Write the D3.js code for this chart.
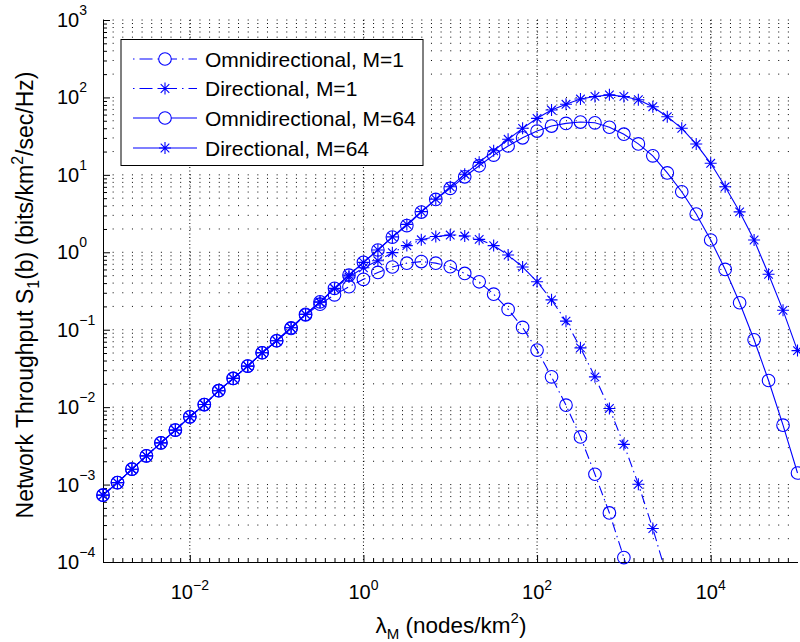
<!DOCTYPE html>
<html><head><meta charset="utf-8">
<script src="https://cdn.jsdelivr.net/npm/d3@7"></script>
<style>
body{margin:0;background:#fff}
svg{display:block}
text{font-family:"Liberation Sans",Arial,Helvetica,sans-serif;fill:#000}
</style>
</head><body>
<svg id="c" width="800" height="642"></svg>
<script>
// ---------------- data ----------------
const lambda = [
  0.001, 0.001468, 0.002154, 0.003162, 0.004642, 0.006813,
  0.01, 0.01468, 0.02154, 0.03162, 0.04642, 0.06813,
  0.1, 0.1468, 0.2154, 0.3162, 0.4642, 0.6813,
  1, 1.468, 2.154, 3.162, 4.642, 6.813,
  10, 14.68, 21.54, 31.62, 46.42, 68.13,
  100, 146.8, 215.4, 316.2, 464.2, 681.3,
  1000, 1468, 2154, 3162, 4642, 6813,
  10000, 14678, 21544, 31623, 46416, 68129,
  100000
];
const omniM1 = [
  7.3e-4, 1.06e-3, 1.58e-3, 2.35e-3, 3.46e-3, 5.05e-3, 7.5e-3, 1.08e-2, 1.63e-2, 2.35e-2, 3.39e-2, 5.04e-2, 7.2e-2,
  0.104, 0.155, 0.214, 0.282, 0.359, 0.447, 0.550, 0.646, 0.724, 0.759, 0.724, 0.650, 0.533, 0.416, 0.288, 0.183,
  0.107, 0.0545, 0.0246, 0.0106, 0.00413, 0.00136, 0.00043, 0.000114, 0.0000282
];
const dirM1 = [
  7.3e-4, 1.06e-3, 1.58e-3, 2.35e-3, 3.46e-3, 5.05e-3, 7.5e-3, 1.08e-2, 1.63e-2, 2.35e-2, 3.39e-2, 5.04e-2, 7.2e-2,
  0.106, 0.158, 0.226, 0.339, 0.479, 0.631, 0.776, 0.989, 1.22, 1.45, 1.60, 1.67, 1.62, 1.47, 1.22, 0.923,
  0.646, 0.417, 0.243, 0.129, 0.0583, 0.0246, 0.00962, 0.0033, 0.00101, 0.000271, 0.000063
];
const omniM64 = [
  7.3e-4, 1.06e-3, 1.58e-3, 2.35e-3, 3.46e-3, 5.05e-3, 7.5e-3, 1.08e-2, 1.63e-2, 2.35e-2, 3.39e-2, 5.04e-2, 7.2e-2,
  0.106, 0.158, 0.229, 0.342, 0.507, 0.741, 1.07, 1.57, 2.21, 3.31, 4.82, 6.70, 9.44, 13.1, 18.0, 23.6,
  30.1, 36.8, 42.7, 46.2, 48.1, 47.0, 41.2, 33.5, 25.1, 17.6, 10.6, 6.05, 3.12, 1.44, 0.601, 0.223,
  0.0741, 0.0221, 0.00585, 0.00141
];
const dirM64 = [
  7.3e-4, 1.06e-3, 1.58e-3, 2.35e-3, 3.46e-3, 5.05e-3, 7.5e-3, 1.08e-2, 1.63e-2, 2.35e-2, 3.39e-2, 5.04e-2, 7.2e-2,
  0.106, 0.158, 0.229, 0.342, 0.507, 0.741, 1.07, 1.58, 2.29, 3.35, 4.86, 7.01, 10.2, 14.5, 20.5, 28.8,
  39.9, 53.7, 68.7, 81.5, 95.3, 103, 108, 103, 93.3, 75.9, 56.4, 39.9, 25.0, 14.1, 7.01, 3.33,
  1.44, 0.52, 0.178, 0.0537
];
const seriesNames = ["Omnidirectional, M=1", "Directional, M=1", "Omnidirectional, M=64", "Directional, M=64"];
const xTickValues = [1e-2, 1, 1e2, 1e4];
const xTickExps = ["\u22122", "0", "2", "4"];
const yTickValues = [1e-4, 1e-3, 1e-2, 1e-1, 1, 1e1, 1e2, 1e3];
const yTickExps = ["\u22124", "\u22123", "\u22122", "\u22121", "0", "1", "2", "3"];
const xLabel = ["\u03bb", "M", " (nodes/km", "2", ")"];
const yLabel = ["Network Throughput S", "1", "(b) (bits/km", "2", "/sec/Hz)"];

// ---------------- layout ----------------
const svg = d3.select("#c");
const X0 = 103, X1 = 797.5, Y0 = 562, Y1 = 20;
const x = d3.scaleLog().domain([1e-3, 1e5]).range([X0, X1]);
const y = d3.scaleLog().domain([1e-4, 1e3]).range([Y0, Y1]);
const blue = "#0000ff";

// minor ticks
const yMinor = [];
for (let e = -4; e <= 2; e++) for (let m = 2; m <= 9; m++) yMinor.push(m * Math.pow(10, e));
const xMinor = [];
for (let j = 1; j < 72; j++) if (j % 18 !== 9) xMinor.push(Math.pow(10, -3 + j / 9));
const minorStep = (X1 - X0) / 72;

// grid
const grid = svg.append("g");
grid.selectAll("line.h").data(yTickValues.concat(yMinor).filter(v => v > 1e-4))
  .join("line").attr("class", "h")
  .attr("x1", X0).attr("x2", X1)
  .attr("y1", d => y(d)).attr("y2", d => y(d))
  .attr("stroke", "#000").attr("stroke-width", 1)
  .attr("stroke-dasharray", `1,${minorStep - 1}`);
grid.selectAll("line.v").data(xTickValues)
  .join("line").attr("class", "v")
  .attr("x1", d => x(d)).attr("x2", d => x(d))
  .attr("y1", Y1).attr("y2", Y0)
  .attr("stroke", "#000").attr("stroke-width", 1)
  .attr("stroke-dasharray", "1,2.5");

// axes
const gx = svg.append("g").attr("transform", `translate(0,${Y0})`);
gx.call(d3.axisBottom(x).tickValues(xTickValues).tickSizeInner(-7).tickSizeOuter(0).tickFormat(""));
gx.append("g").call(d3.axisBottom(x).tickValues(xMinor).tickSizeInner(-4).tickSizeOuter(0).tickFormat(""))
  .select(".domain").remove();
const gy = svg.append("g").attr("transform", `translate(${X0},0)`);
gy.call(d3.axisLeft(y).tickValues(yTickValues).tickSizeInner(-7).tickSizeOuter(0).tickFormat(""));
gy.append("g").call(d3.axisLeft(y).tickValues(yMinor).tickSizeInner(-4).tickSizeOuter(0).tickFormat(""))
  .select(".domain").remove();
svg.selectAll(".domain").attr("stroke", "#000");
svg.selectAll(".tick line").attr("stroke", "#000");

// tick labels
const xl = svg.append("g").selectAll("text").data(xTickValues).join("text")
  .attr("x", d => x(d)).attr("y", 599).attr("text-anchor", "middle")
  .attr("font-size", 20);
xl.append("tspan").text("10");
xl.append("tspan").attr("dy", -9).attr("font-size", 14).text((d, i) => xTickExps[i]);

const yl = svg.append("g").selectAll("text").data(yTickValues).join("text")
  .attr("x", 57).attr("y", d => y(d) + 7).attr("text-anchor", "start")
  .attr("font-size", 20);
yl.append("tspan").text("10");
yl.append("tspan").attr("dy", -12).attr("font-size", 14).text((d, i) => yTickExps[i]);

// axis labels
const xt = svg.append("text").attr("x", 451).attr("y", 633).attr("text-anchor", "middle").attr("font-size", 22.5);
xt.append("tspan").text(xLabel[0]);
xt.append("tspan").attr("dy", 6).attr("font-size", 15).text(xLabel[1]);
xt.append("tspan").attr("dy", -6).text(xLabel[2]);
xt.append("tspan").attr("dy", -10).attr("font-size", 15).text(xLabel[3]);
xt.append("tspan").attr("dy", 10).text(xLabel[4]);

const yt = svg.append("text").attr("transform", "translate(33,295) rotate(-90)")
  .attr("text-anchor", "middle").attr("font-size", 23);
yt.append("tspan").text(yLabel[0]);
yt.append("tspan").attr("dy", 6).attr("font-size", 16).text(yLabel[1]);
yt.append("tspan").attr("dy", -6).text(yLabel[2]);
yt.append("tspan").attr("dy", -10).attr("font-size", 16).text(yLabel[3]);
yt.append("tspan").attr("dy", 10).text(yLabel[4]);

// clip
svg.append("clipPath").attr("id", "clip").append("rect")
  .attr("x", X0).attr("y", Y1 - 10).attr("width", 800 - X0).attr("height", Y0 - Y1 + 10);

const starPath = "M-6,0H6M0,-6V6M-4.3,-4.3L4.3,4.3M-4.3,4.3L4.3,-4.3";
const series = [
  {name: seriesNames[0], vals: omniM1, dash: "10,4,1.5,4", marker: "o"},
  {name: seriesNames[1], vals: dirM1, dash: "10,4,1.5,4", marker: "*"},
  {name: seriesNames[2], vals: omniM64, dash: null, marker: "o"},
  {name: seriesNames[3], vals: dirM64, dash: null, marker: "*"}
];
const line = d3.line().x(d => x(d[0])).y(d => y(d[1]));
const plot = svg.append("g");
series.forEach(s => {
  const pts = s.vals.map((v, i) => [lambda[i], v]);
  plot.append("path").datum(pts).attr("d", line)
    .attr("clip-path", "url(#clip)")
    .attr("fill", "none").attr("stroke", blue).attr("stroke-width", 1.1)
    .attr("stroke-dasharray", s.dash);
  const vis = pts.filter(p => p[1] >= 1e-4);
  const mk = plot.append("g").selectAll("g").data(vis).join("g")
    .attr("transform", p => `translate(${x(p[0])},${y(p[1])})`);
  if (s.marker === "o") mk.append("circle").attr("r", 6.3).attr("fill", "none").attr("stroke", blue).attr("stroke-width", 1.1);
  else mk.append("path").attr("d", starPath).attr("fill", "none").attr("stroke", blue).attr("stroke-width", 1.1);
});

// legend
const leg = svg.append("g");
leg.append("rect").attr("x", 121).attr("y", 39.5).attr("width", 302).attr("height", 126)
  .attr("fill", "#fff").attr("stroke", "#000").attr("stroke-width", 1);
const rows = [59, 88.5, 118, 148];
series.forEach((s, i) => {
  const g = leg.append("g").attr("transform", `translate(0,${rows[i]})`);
  g.append("line").attr("x1", 133).attr("x2", 197).attr("y1", 0).attr("y2", 0)
    .attr("stroke", blue).attr("stroke-width", 1.1).attr("stroke-dasharray", s.dash ? "1.5,5,13,5" : null);
  if (s.marker === "o") g.append("circle").attr("cx", 165).attr("r", 6.3).attr("fill", "#fff").attr("stroke", blue).attr("stroke-width", 1.1);
  else g.append("path").attr("transform", "translate(165,0)").attr("d", starPath).attr("fill", "none").attr("stroke", blue).attr("stroke-width", 1.1);
  g.append("text").attr("x", 205).attr("y", 7.5).attr("font-size", 21).text(s.name);
});
</script>
</body></html>
